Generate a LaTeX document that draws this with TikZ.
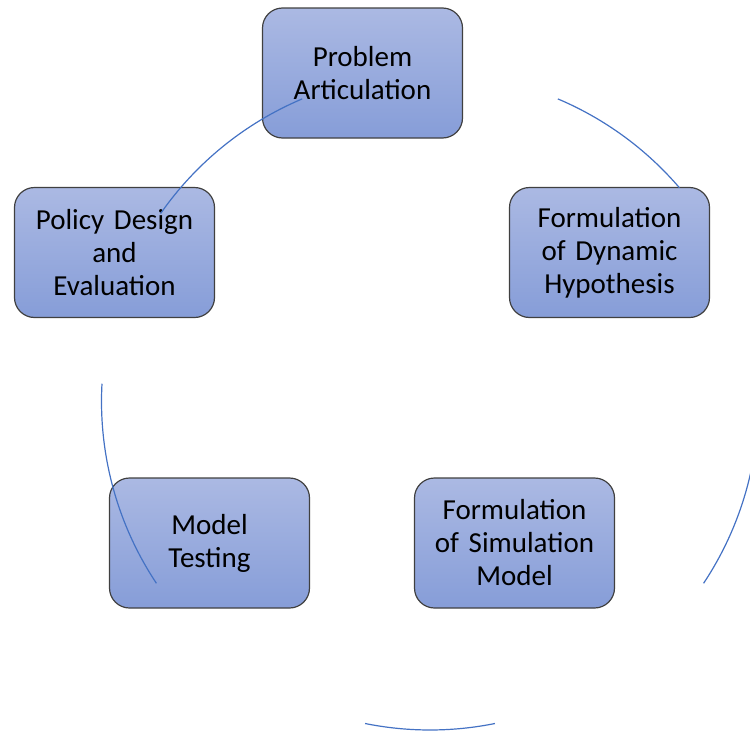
\documentclass[tikz,border=0pt]{standalone}
\usepackage{fontspec}
\setmainfont{Carlito}
\definecolor{boxtop}{RGB}{171,185,227}
\definecolor{boxbot}{RGB}{134,157,216}
\definecolor{boxline}{RGB}{64,64,64}
\definecolor{cycblue}{RGB}{68,114,196}
\tikzset{
  stage/.style={draw=boxline, line width=1.2pt, rounded corners=20pt,
    top color=boxtop, bottom color=boxbot,
    minimum width=200pt, minimum height=130pt, text width=190pt,
    align=center, font=\fontsize{29}{33}\selectfont},
  cycarc/.style={cycblue, line width=1.2pt}
}
\begin{document}
\begin{tikzpicture}[x=1pt,y=-1pt]
\useasboundingbox (0,0) rectangle (750,731);
\node[stage] (prob) at (362.5,73) {Problem\\Articulation};
\node[stage] (dyn) at (609.5,252.5) {Formulation\\of Dynamic\\Hypothesis};
\node[stage] (sim) at (514.5,543) {Formulation\\of Simulation\\Model};
\node[stage] (test) at (209.5,543) {Model\\Testing};
\node[stage] (pol) at (114.5,252.5) {Policy Design\\and\\Evaluation};
% cycle
\coordinate (ctr) at (430,401.5);
\draw[cycarc] ([shift={(67.1:328.5pt)}]ctr) arc[start angle=67.1, end angle=40.6, radius=328.5pt];
\draw[cycarc] ([shift={(3.1:328.5pt)}]ctr) arc[start angle=3.1, end angle=-33.6, radius=328.5pt];
\draw[cycarc] ([shift={(-78.6:328.5pt)}]ctr) arc[start angle=-78.6, end angle=-101.4, radius=328.5pt];
\draw[cycarc] ([shift={(213.6:328.5pt)}]ctr) arc[start angle=213.6, end angle=176.9, radius=328.5pt];
\draw[cycarc] ([shift={(145.1:328.5pt)}]ctr) arc[start angle=145.1, end angle=112.9, radius=328.5pt];
\end{tikzpicture}
\end{document}
